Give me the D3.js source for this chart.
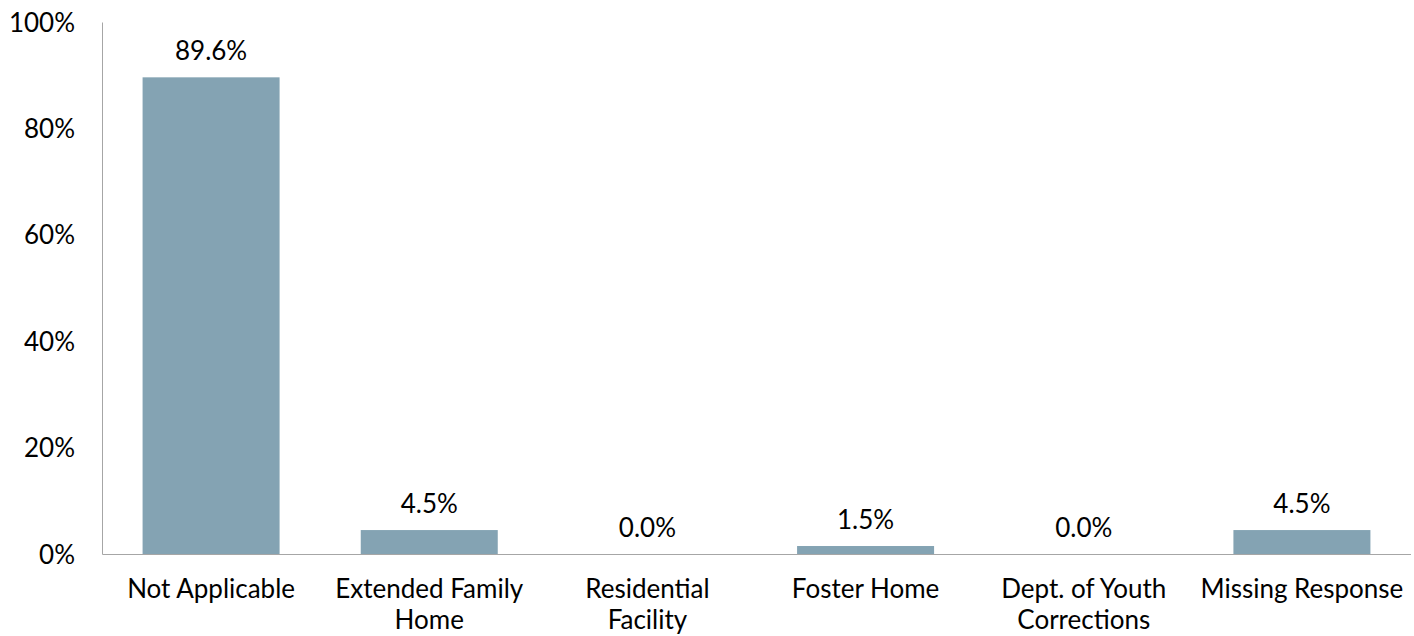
<!DOCTYPE html>
<meta charset="utf-8">
<style>
body { margin: 0; background: #fff; }
svg text { font-family: Lato, 'Open Sans', sans-serif; font-size: 26px; fill: #000; }
.axis path { stroke: #a6a6a6; }
.bar { fill: #84a3b3; }
</style>
<body>
<script src="https://d3js.org/d3.v7.min.js"></script>
<script>

// categories (line breaks as in the original axis labels)
var categories = ["Not Applicable", "Extended Family\nHome", "Residential\nFacility",
                  "Foster Home", "Dept. of Youth\nCorrections", "Missing Response"];
var values = [89.6, 4.5, 0.0, 1.5, 0.0, 4.5];
var yTicks = [0, 20, 40, 60, 80, 100];

var margin = {top: 22, right: 3, bottom: 82, left: 102},
    width = 1414 - margin.left - margin.right,
    height = 636 - margin.top - margin.bottom;

var svg = d3.select("body").append("svg")
    .attr("width", 1414)
    .attr("height", 636)
  .append("g")
    .attr("transform", "translate(" + margin.left + "," + margin.top + ")");

var x = d3.scaleBand()
    .domain(categories)
    .range([0, width])
    .paddingInner(0.372)
    .paddingOuter(0.186);

var y = d3.scaleLinear().domain([0, 100]).range([height, 0]);

// bars
svg.selectAll(".bar")
    .data(values)
  .enter().append("rect")
    .attr("class", "bar")
    .attr("x", function(d, i) { return x(categories[i]); })
    .attr("width", x.bandwidth())
    .attr("y", function(d) { return y(d); })
    .attr("height", function(d) { return height - y(d); });

// value labels
svg.selectAll(".label")
    .data(values)
  .enter().append("text")
    .attr("class", "label")
    .attr("x", function(d, i) { return x(categories[i]) + x.bandwidth() / 2; })
    .attr("y", function(d) { return y(d) - 17; })
    .attr("text-anchor", "middle")
    .text(function(d) { return d.toFixed(1) + "%"; });

// y axis
var yAxis = svg.append("g")
    .attr("class", "axis")
    .call(d3.axisLeft(y).tickValues(yTicks).tickSize(0).tickPadding(27)
      .tickFormat(function(d) { return d + "%"; }));
yAxis.selectAll("text").attr("dy", "0.35em");

// x axis
var xAxis = svg.append("g")
    .attr("class", "axis")
    .attr("transform", "translate(0," + height + ")")
    .call(d3.axisBottom(x).tickSize(0).tickFormat(""));
xAxis.select(".domain").attr("d", "M0.5,0.5H" + width);

xAxis.selectAll(".tick").each(function(d) {
  var t = d3.select(this).append("text")
      .attr("text-anchor", "middle")
      .attr("y", 44);
  d.split("\n").forEach(function(line, i) {
    t.append("tspan").attr("x", 0).attr("dy", i === 0 ? 0 : 31).text(line);
  });
});

</script>
</body>
